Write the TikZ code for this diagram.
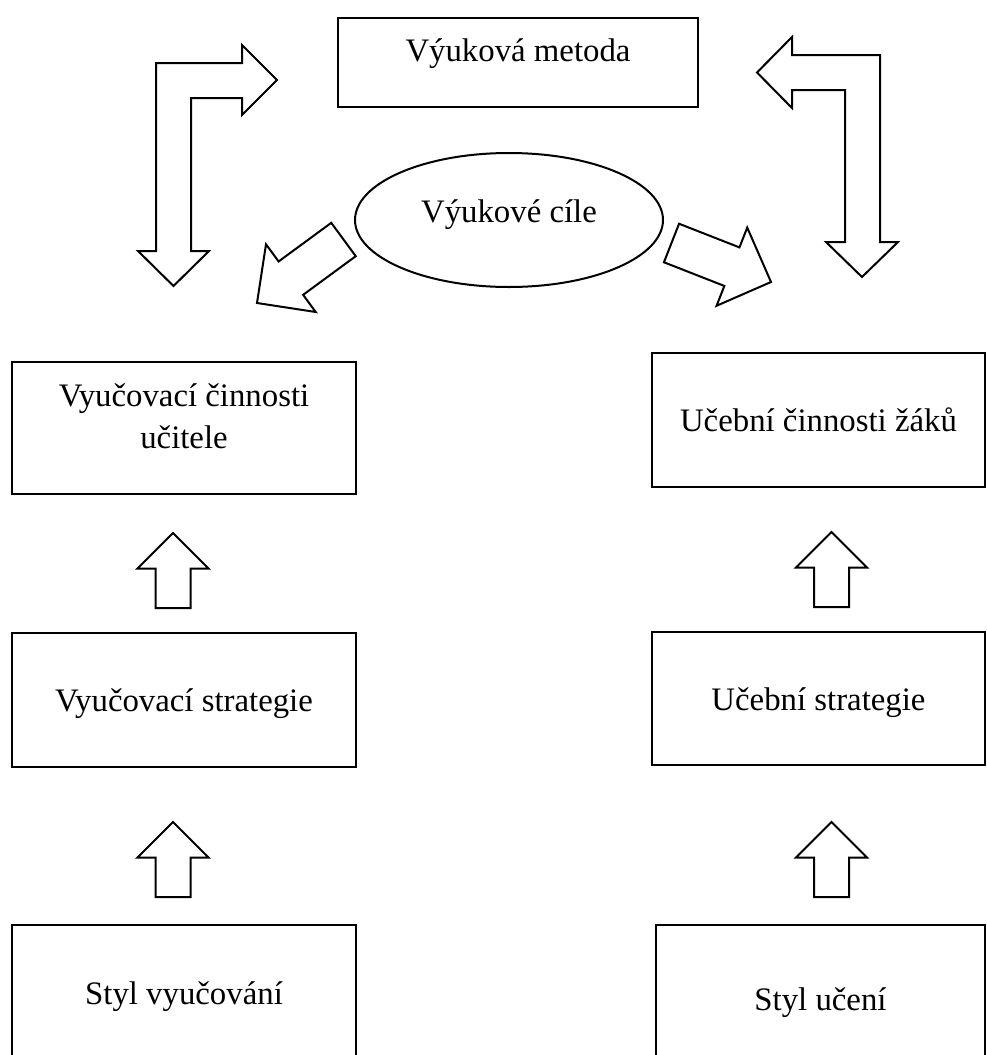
\documentclass[tikz,border=0pt]{standalone}
\usepackage{fontspec}
\setmainfont{Liberation Serif}
\usetikzlibrary{shapes.geometric, calc}
\tikzstyle{box} = [rectangle, draw=black, line width=1pt, inner sep=0pt, text centered]
\tikzstyle{goal} = [ellipse, draw=black, line width=1pt, inner sep=0pt, text centered]
\tikzstyle{blk} = [draw=black, line width=1pt, line join=miter]
\newcommand{\blockarrow}[4]{%
  \path ($(#2)!#4!(#1)$) coordinate (ba-base);
  \draw[blk] ($(#1)!#3!90:(#2)$) -- ($(ba-base)!#3!90:(#2)$) -- ($(ba-base)!#4!90:(#2)$) -- (#2)
    -- ($(ba-base)!#4!-90:(#2)$) -- ($(ba-base)!#3!-90:(#2)$) -- ($(#1)!#3!-90:(#2)$) -- cycle;
}

\begin{document}
\begin{tikzpicture}[x=0.5pt, y=-0.5pt, font=\fontsize{16.4}{20.8}\selectfont]
\useasboundingbox (0,0) rectangle (986,1055);
\clip (0,0) rectangle (986,1055);

\node (metoda) [box, minimum width=180pt, text height=21.85pt, text depth=22.65pt] at (518,62.5) {Výuková metoda};
\node (cile) [goal, minimum width=154pt, minimum height=67pt, text height=12.7pt, text depth=10pt] at (509,220) {Výukové cíle};

\node (ucitelAct) [box, minimum width=172pt, minimum height=66pt] at (184,428) {};
\node (ucitelTxt) [align=center, inner sep=0pt] at (184,416.3) {Vyučovací činnosti\\učitele};
\node (zakAct) [box, minimum width=166.5pt, text height=39.35pt, text depth=27.65pt] at (818.5,420) {Učební činnosti žáků};

\node (ucitelStrat) [box, minimum width=172pt, text height=39.35pt, text depth=27.65pt] at (184,700) {Vyučovací strategie};
\node (zakStrat) [box, minimum width=166.5pt, text height=39.35pt, text depth=27.15pt] at (818.5,698.5) {Učební strategie};

\node (ucitelStyl) [box, minimum width=172pt, text height=39.5pt, text depth=27.5pt] at (184,992) {Styl vyučování};
\node (zakStyl) [box, minimum width=164.5pt, text height=42.85pt, text depth=31pt] at (820.5,999) {Styl učení};

\coordinate (cL1) at (343.5,239.5);
\coordinate (cL2) at (257,303);
\coordinate (cR1) at (671.5,243);
\coordinate (cR2) at (771,282);
\coordinate (uL1) at (173,608);
\coordinate (uL2) at (173,533);
\coordinate (uR1) at (831.5,607);
\coordinate (uR2) at (831.5,532);
\coordinate (sL1) at (173,897);
\coordinate (sL2) at (173,822);
\coordinate (sR1) at (831.5,897);
\coordinate (sR2) at (831.5,822);

\blockarrow{cL1}{cL2}{10.35pt}{21pt}
\blockarrow{cR1}{cR2}{10.35pt}{21pt}
\blockarrow{uL1}{uL2}{8.75pt}{17.75pt}
\blockarrow{uR1}{uR2}{8.75pt}{17.75pt}
\blockarrow{sL1}{sL2}{8.75pt}{17.75pt}
\blockarrow{sR1}{sR2}{8.75pt}{17.75pt}

% bent arrows round the method box
\draw[blk] (156,251) -- (156,63) -- (242,63) -- (242,45) -- (277,80) -- (242,115) -- (242,98) -- (191,98)
  -- (191,251) -- (209,251) -- (173.5,286) -- (138,251) -- cycle;
\draw[blk] (880,55) -- (880,242) -- (898,242) -- (862,277) -- (826,242) -- (845,242) -- (845,90) -- (792,90)
  -- (792,108) -- (757,72.5) -- (792,37) -- (792,55) -- cycle;

\end{tikzpicture}
\end{document}
